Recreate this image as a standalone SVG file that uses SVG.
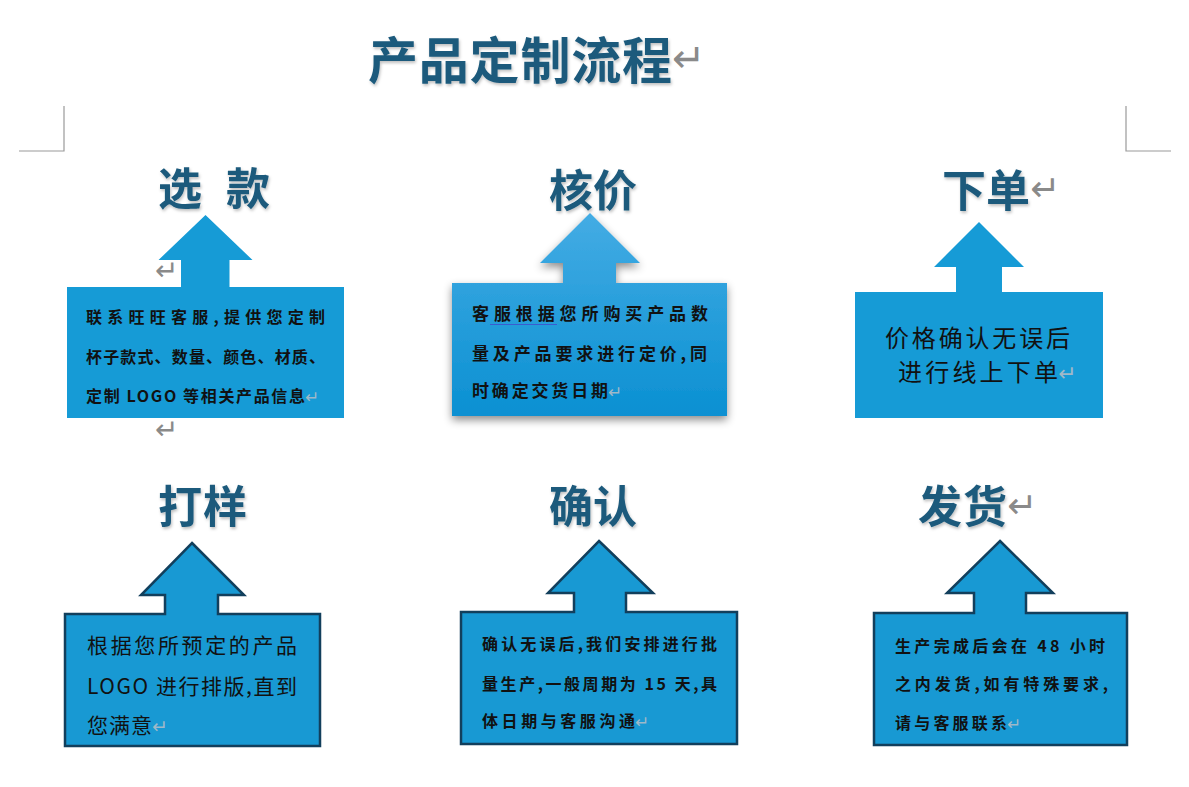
<svg xmlns="http://www.w3.org/2000/svg" width="1189" height="787" viewBox="0 0 1189 787">
<defs>
<style>
.title{font-family:"Noto Sans CJK SC","Liberation Sans",sans-serif;font-weight:700;font-size:50px;fill:#1d5a7c}
.lbl{font-family:"Noto Sans CJK SC","Liberation Sans",sans-serif;font-weight:700;font-size:44px;fill:#1d5a7c}
.ret{font-family:"DejaVu Sans",sans-serif;fill:#8a8a8a}
.retl{font-family:"DejaVu Sans",sans-serif;fill:#9fb8c8}
.tb{font-family:"Noto Sans CJK SC","Liberation Sans",sans-serif;font-weight:700;font-size:16px;fill:#111}
.tb2{font-family:"Noto Sans CJK SC","Liberation Sans",sans-serif;font-weight:700;font-size:17px;fill:#111}
.tn{font-family:"Noto Sans CJK SC","Liberation Sans",sans-serif;font-weight:400;font-size:24px;fill:#111}
.tn2{font-family:"Noto Sans CJK SC","Liberation Sans",sans-serif;font-weight:400;font-size:21px;fill:#111}
.plain{fill:#169bd6}
.edged{fill:#1899d3;stroke:#123f5c;stroke-width:2.5;stroke-linejoin:miter}
.corner{fill:none;stroke:#9a9a9a;stroke-width:1.2}
</style>
<filter id="ts" x="-10%" y="-10%" width="130%" height="140%">
<feDropShadow dx="1" dy="2" stdDeviation="1.5" flood-color="#000" flood-opacity="0.25"/>
</filter>
<filter id="bs" x="-10%" y="-10%" width="125%" height="130%">
<feDropShadow dx="0" dy="4" stdDeviation="4" flood-color="#000" flood-opacity="0.45"/>
</filter>
<linearGradient id="g2" x1="0" y1="0" x2="0" y2="1">
<stop offset="0" stop-color="#44ace4"/>
<stop offset="1" stop-color="#0a90d2"/>
</linearGradient>
</defs>
<rect width="1189" height="787" fill="#fff"/>

<g id="corners">
<path class="corner" d="M64 106 V151 H19"/>
<path class="corner" d="M1126 106 V151 H1171"/>
</g>

<g id="title">
<text class="title" x="368" y="79" textLength="304" lengthAdjust="spacing" filter="url(#ts)">产品定制流程</text>
<text class="ret" x="672" y="72" font-size="40">↵</text>
</g>

<g id="connectors"></g>

<g id="node-xuankuan">
<text class="lbl" x="158" y="205" filter="url(#ts)">选</text>
<text class="lbl" x="226" y="205" filter="url(#ts)">款</text>
<path class="plain" d="M205.5 215 L252.5 260 H229.5 V287 H344 V418 H67 V287 H181 V260 H158.5 Z"/>
<text class="ret" x="155" y="280" font-size="28">↵</text>
<text class="ret" x="155" y="439" font-size="28">↵</text>
<text class="tb" x="86" y="323" textLength="239" lengthAdjust="spacing">联系旺旺客服,提供您定制</text>
<text class="tb" x="86" y="363" textLength="239" lengthAdjust="spacing">杯子款式、数量、颜色、材质、</text>
<text class="tb" x="86" y="402" textLength="219" lengthAdjust="spacing">定制 LOGO 等相关产品信息</text>
<text class="retl" x="305" y="403" font-size="17">↵</text>
</g>

<g id="node-hejia">
<text class="lbl" x="549" y="207" textLength="88" lengthAdjust="spacing" filter="url(#ts)">核价</text>
<path fill="url(#g2)" filter="url(#bs)" d="M590 213 L640 263 H616 V283 H727 V416 H452 V283 H563 V263 H540 Z"/>
<text class="tb2" x="472" y="320" textLength="236" lengthAdjust="spacing">客服根据您所购买产品数</text>
<line x1="490" y1="324.5" x2="557" y2="324.5" stroke="#3b5ccf" stroke-width="1.2"/>
<text class="tb2" x="472" y="360" textLength="235" lengthAdjust="spacing">量及产品要求进行定价,同</text>
<text class="tb2" x="472" y="397" textLength="136" lengthAdjust="spacing">时确定交货日期</text>
<text class="retl" x="608" y="398" font-size="17">↵</text>
</g>

<g id="node-xiadan">
<text class="lbl" x="942" y="207" textLength="88" lengthAdjust="spacing" filter="url(#ts)">下单</text>
<text class="ret" x="1030" y="201" font-size="36">↵</text>
<path class="plain" d="M979 222 L1024 267 H1002 V292 H1103 V418 H855 V292 H956 V267 H934 Z"/>
<text class="tn" x="885" y="347" textLength="185" lengthAdjust="spacing">价格确认无误后</text>
<text class="tn" x="898" y="381" textLength="160" lengthAdjust="spacing">进行线上下单</text>
<text class="retl" x="1058" y="381" font-size="22">↵</text>
</g>

<g id="node-dayang">
<text class="lbl" x="158" y="523" textLength="89" lengthAdjust="spacing" filter="url(#ts)">打样</text>
<path class="edged" d="M192 543 L244 595 H218 V614 H320 V746 H65 V614 H165 V595 H141 Z"/>
<text class="tn2" x="87" y="653" textLength="210" lengthAdjust="spacing">根据您所预定的产品</text>
<text class="tn2" x="87" y="694" textLength="210" lengthAdjust="spacing">LOGO 进行排版,直到</text>
<text class="tn2" x="87" y="733" textLength="65" lengthAdjust="spacing">您满意</text>
<text class="retl" x="152" y="733" font-size="19">↵</text>
</g>

<g id="node-queren">
<text class="lbl" x="549" y="523" textLength="88" lengthAdjust="spacing" filter="url(#ts)">确认</text>
<path class="edged" d="M599 541 L653 593 H626 V612 H737 V744 H461 V612 H574 V593 H548 Z"/>
<text class="tb" x="482" y="650" textLength="235" lengthAdjust="spacing">确认无误后,我们安排进行批</text>
<text class="tb" x="482" y="690" textLength="235" lengthAdjust="spacing">量生产,一般周期为 15 天,具</text>
<text class="tb" x="482" y="727" textLength="153" lengthAdjust="spacing">体日期与客服沟通</text>
<text class="retl" x="635" y="728" font-size="17">↵</text>
</g>

<g id="node-fahuo">
<text class="lbl" x="918" y="523" textLength="89" lengthAdjust="spacing" filter="url(#ts)">发货</text>
<text class="ret" x="1007" y="518" font-size="36">↵</text>
<path class="edged" d="M1000 541 L1053 593 H1026 V613 H1127 V745 H874 V613 H974 V593 H947 Z"/>
<text class="tb" x="895" y="652" textLength="210" lengthAdjust="spacing">生产完成后会在 48 小时</text>
<text class="tb" x="895" y="690" textLength="213" lengthAdjust="spacing">之内发货,如有特殊要求,</text>
<text class="tb" x="895" y="729" textLength="112" lengthAdjust="spacing">请与客服联系</text>
<text class="retl" x="1007" y="730" font-size="17">↵</text>
</g>
</svg>
